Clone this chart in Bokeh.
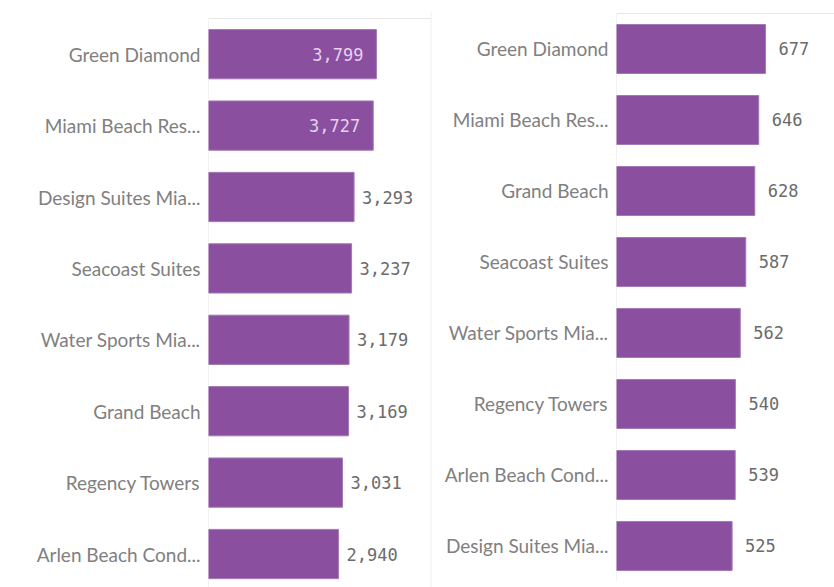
from bokeh.plotting import figure
from bokeh.layouts import row
from bokeh.models import Range1d, ColumnDataSource, FixedTicker, Span
from bokeh.core.properties import value
from bokeh.embed import file_html
from bokeh.resources import INLINE

# ---- data ----
left_cats = ["Green Diamond", "Miami Beach Res...", "Design Suites Mia...", "Seacoast Suites",
             "Water Sports Mia...", "Grand Beach", "Regency Towers", "Arlen Beach Cond..."]
left_vals = [3799, 3727, 3293, 3237, 3179, 3169, 3031, 2940]

right_cats = ["Green Diamond", "Miami Beach Res...", "Grand Beach", "Seacoast Suites",
              "Water Sports Mia...", "Regency Towers", "Arlen Beach Cond...", "Design Suites Mia..."]
right_vals = [677, 646, 628, 587, 562, 540, 539, 525]

BAR = "#8b4f9f"
BAR_LINE = "#a479b4"
LABEL = "#808080"
VALUE = "#6b6b6b"
INSIDE = "#e4d2ec"
RULE = "#e6e6e6"


def panel(cats, vals, xmax, width, y_start, y_end, b_left, b_right, inside_frac, out_off, in_off):
    n = len(cats)
    pos = [n - 1 - i for i in range(n)]  # first category on top
    p = figure(width=width, height=587, y_range=Range1d(y_start, y_end),
               x_range=Range1d(0, xmax), x_axis_location=None,
               output_backend="svg", toolbar_location=None,
               min_border_left=b_left, min_border_top=12, min_border_right=b_right,
               min_border_bottom=0)
    p.outline_line_color = None
    p.grid.visible = False
    p.background_fill_color = "white"
    p.border_fill_color = "white"

    # frame rules: top line and axis line along the band extent
    top = n - 0.5
    bottom = -0.5
    p.segment(x0=[0, 0], y0=[top, top], x1=[xmax, 0], y1=[top, bottom],
              line_color=RULE, line_width=1)

    p.hbar(y=pos, right=vals, left=0, height=0.69, fill_color=BAR, line_color=BAR_LINE, line_width=1)

    inside = [v / xmax > inside_frac for v in vals]
    src_in = ColumnDataSource(dict(y=[y for y, f in zip(pos, inside) if f],
                                   x=[v for v, f in zip(vals, inside) if f],
                                   t=[f"{v:,}" for v, f in zip(vals, inside) if f]))
    src_out = ColumnDataSource(dict(y=[y for y, f in zip(pos, inside) if not f],
                                    x=[v for v, f in zip(vals, inside) if not f],
                                    t=[f"{v:,}" for v, f in zip(vals, inside) if not f]))
    p.text(x="x", y="y", text="t", source=src_in, text_align="right", text_baseline="middle",
           x_offset=-in_off, text_font=value("DejaVu Sans Mono"), text_font_size="17px",
           text_color=INSIDE)
    p.text(x="x", y="y", text="t", source=src_out, text_align="left", text_baseline="middle",
           x_offset=out_off, text_font=value("DejaVu Sans Mono"), text_font_size="17px",
           text_color=VALUE)

    ya = p.yaxis[0]
    ya.ticker = FixedTicker(ticks=pos)
    ya.major_label_overrides = {y: c for y, c in zip(pos, cats)}
    ya.axis_line_color = None
    ya.major_tick_line_color = None
    ya.minor_tick_line_color = None
    ya.major_label_text_font = "Lato"
    ya.major_label_text_font_size = "19px"
    ya.major_label_text_color = LABEL
    ya.major_label_standoff = 2
    return p


# left: band spacing ~71.4 px, top band edge at 18 px (frame 12..587)
p1 = panel(left_cats, left_vals, 5045, 432, -0.469, 7.584, 208, 1, 0.7, 8, 13)
p1.add_layout(Span(location=5040, dimension="height", line_color=RULE, line_width=1))
# right: band spacing ~71 px, top band edge at 13 px
p2 = panel(right_cats, right_vals, 990, 402, -0.585, 7.514, 184, 0, 0.9, 13, 13)

layout = row(p1, p2)
open("out.html", "w").write(file_html(layout, INLINE))
